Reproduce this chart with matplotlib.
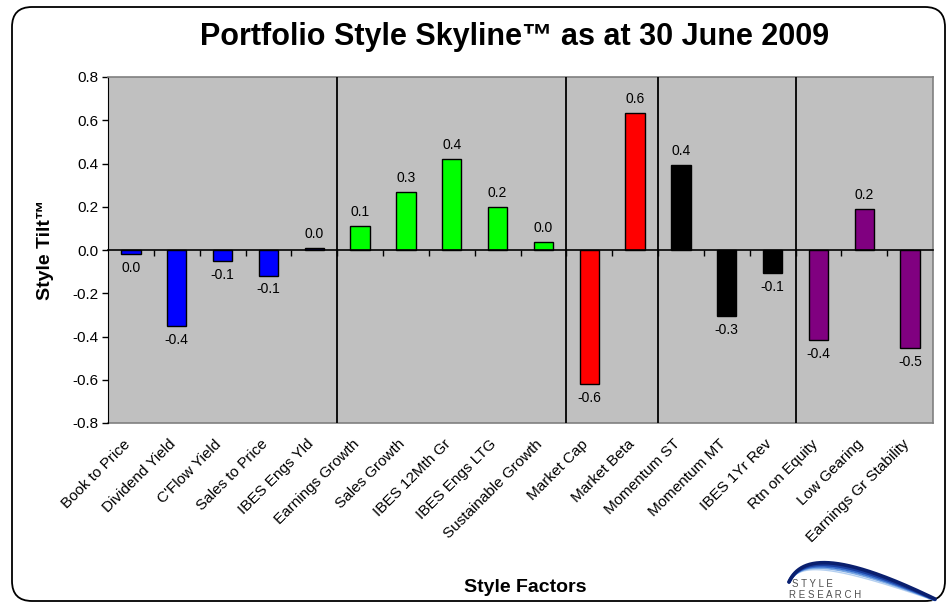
import numpy as np
import matplotlib
matplotlib.use("Agg")
import matplotlib.pyplot as plt
import matplotlib.transforms as mtransforms
from matplotlib.patches import FancyBboxPatch

plt.rcParams['font.family'] = ['Liberation Sans', 'DejaVu Sans']
plt.rcParams['axes.unicode_minus'] = False

# ---- data ----
categories = ["Book to Price", "Dividend Yield", "C'Flow Yield", "Sales to Price", "IBES Engs Yld",
              "Earnings Growth", "Sales Growth", "IBES 12Mth Gr", "IBES Engs LTG", "Sustainable Growth",
              "Market Cap", "Market Beta",
              "Momentum ST", "Momentum MT", "IBES 1Yr Rev",
              "Rtn on Equity", "Low Gearing", "Earnings Gr Stability"]
values = [-0.018, -0.352, -0.052, -0.118, 0.010,
          0.113, 0.267, 0.421, 0.198, 0.035,
          -0.620, 0.634,
          0.395, -0.305, -0.107,
          -0.416, 0.190, -0.452]
group_sizes = [5, 5, 2, 3, 3]
group_colors = ["#0000FF", "#00FF00", "#FF0000", "#000000", "#800080"]
y_ticks = [-0.8, -0.6, -0.4, -0.2, 0.0, 0.2, 0.4, 0.6, 0.8]

title = "Portfolio Style Skyline\u2122 as at 30 June 2009"
y_label = "Style Tilt\u2122"
x_label = "Style Factors"

W, H = 950, 604
fig = plt.figure(figsize=(W / 100, H / 100), dpi=100)
fig.patch.set_facecolor("white")

# overlay axes in pixel coordinates for frame and logo
ov = fig.add_axes([0, 0, 1, 1], zorder=-1)
ov.set_xlim(0, W)
ov.set_ylim(H, 0)
ov.axis("off")
frame = FancyBboxPatch((12, 7), 933, 594, boxstyle="round,pad=0,rounding_size=20",
                       facecolor="white", edgecolor="black", linewidth=1.3)
ov.add_patch(frame)

# main axes
L, R, T, B = 108, 933, 77, 423
ax = fig.add_axes([L / W, 1 - B / H, (R - L) / W, (B - T) / H])
ax.set_facecolor("#C0C0C0")

colors = []
for size, c in zip(group_sizes, group_colors):
    colors += [c] * size
x = np.arange(len(categories))
ax.bar(x, values, width=0.42, color=colors, edgecolor="black", linewidth=1.0, zorder=2)

ax.set_xlim(-0.5, len(categories) - 0.5)
ax.set_ylim(y_ticks[0], y_ticks[-1])
ax.set_yticks(y_ticks)
ax.set_yticklabels([f"{t:.1f}" for t in y_ticks], fontsize=11)
ax.tick_params(axis="y", direction="out", length=4, width=1, color="black", pad=3)

# group separators
bounds = np.cumsum(group_sizes)[:-1] - 0.5
for b in bounds:
    ax.axvline(b, color="black", linewidth=1.3, zorder=3)

# zero axis with boundary ticks
ax.spines["bottom"].set_position(("data", 0))
ax.spines["bottom"].set_color("black")
ax.spines["bottom"].set_linewidth(1.2)
ax.spines["bottom"].set_zorder(4)
ax.set_xticks(np.arange(len(categories) - 1) + 0.5)
ax.set_xticklabels([])
ax.tick_params(axis="x", direction="out", length=4, width=1, color="black")
ax.spines["left"].set_color("black")
for s in ["top", "right"]:
    ax.spines[s].set_color("#808080")
    ax.spines[s].set_linewidth(1.2)

# category labels on a bottom secondary axis
sec = ax.secondary_xaxis("bottom")
sec.set_xticks(x)
sec.set_xticklabels(categories, fontsize=11, rotation=45, ha="right", va="top",
                    rotation_mode="anchor")
sec.tick_params(length=0, pad=10)
sec.spines["bottom"].set_color("#808080")
sec.spines["bottom"].set_linewidth(1.2)
shift = mtransforms.ScaledTranslation(-8 / 100, 0, fig.dpi_scale_trans)
for lab in sec.get_xticklabels():
    lab.set_transform(lab.get_transform() + shift)

# data labels
for xi, v in zip(x, values):
    s = f"{v:.1f}"
    if s == "-0.0":
        s = "0.0"
    if v >= 0:
        ax.annotate(s, (xi, v), xytext=(0, 5), textcoords="offset points",
                    ha="center", va="bottom", fontsize=10)
    else:
        ax.annotate(s, (xi, v), xytext=(0, -5), textcoords="offset points",
                    ha="center", va="top", fontsize=10)

# titles
fig.text(515 / W, 1 - 37 / H, title, ha="center", va="center", fontsize=22, fontweight="bold")
fig.text(46 / W, 1 - 250 / H, y_label, ha="center", va="center", rotation=90,
         fontsize=14, fontweight="bold")
fig.text(525 / W, 1 - 587 / H, x_label, ha="center", va="center", fontsize=14, fontweight="bold")

# logo (decoration)
def bez(p0, p1, p2, p3, n=150):
    t = np.linspace(0, 1, n)[:, None]
    P = ((1 - t) ** 3) * np.array(p0) + 3 * ((1 - t) ** 2) * t * np.array(p1) \
        + 3 * (1 - t) * t ** 2 * np.array(p2) + t ** 3 * np.array(p3)
    return P[:, 0], P[:, 1]

swoosh = [("#B5D0F0", 1.0, 8), ("#7AA8E4", 1.4, 6), ("#3A6FCC", 2.0, 4),
          ("#1A3FA0", 2.4, 2), ("#0A1F6E", 2.6, 0)]
for col, lw, d in swoosh:
    xs, ys = bez((789, 582), (800, 558 + d * 0.5), (832, 549 + d * 2.0), (935, 599 + d * 0.2))
    ov.plot(xs, ys, color=col, linewidth=lw, solid_capstyle="round")
ov.text(792, 584, "S T Y L E", fontsize=7, color="#505050", ha="left", va="center")
ov.text(789, 595, "R E S E A R C H", fontsize=7, color="#505050", ha="left", va="center")

fig.savefig("out.png", dpi=100, facecolor="white")
